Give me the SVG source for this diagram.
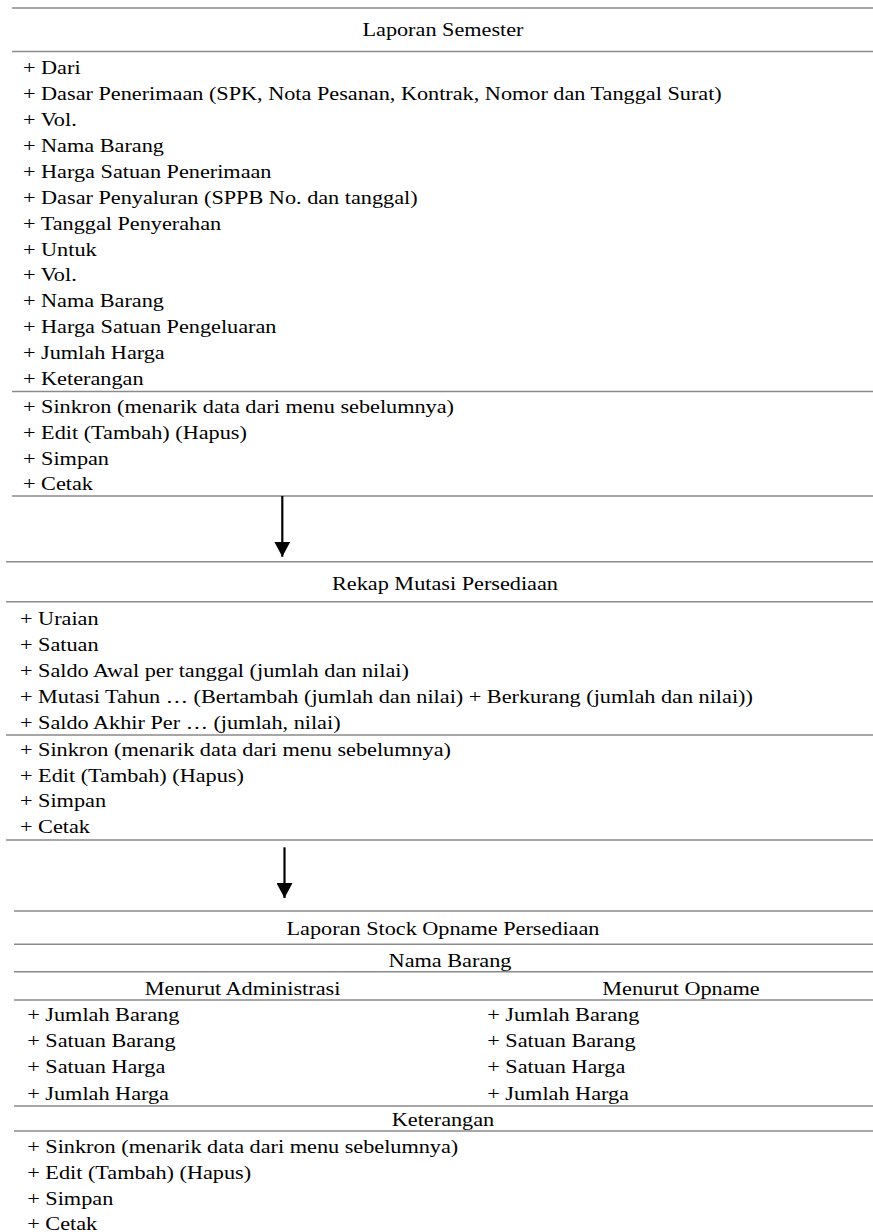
<svg xmlns="http://www.w3.org/2000/svg" width="873" height="1232" viewBox="0 0 873 1232">
<style>
.rule{stroke:#8a8a8a;stroke-width:1.6;fill:none}
text{font-family:'Liberation Serif','Times New Roman',serif;font-size:17.8px;fill:#000}
.c{text-anchor:middle}
.arrow{stroke:#000;stroke-width:2.2;fill:none}
</style>
<defs>
<marker id="ah" markerWidth="15" markerHeight="16" refX="15" refY="8" orient="auto" markerUnits="userSpaceOnUse" viewBox="0 0 15 16">
<path d="M0,0 L15,8 L0,16 Z" fill="#000"/>
</marker>
</defs>
<g id="laporan-semester">
<line class="rule" x1="12" y1="8" x2="873" y2="8"/>
<line class="rule" x1="12" y1="51.5" x2="873" y2="51.5"/>
<line class="rule" x1="12" y1="391.5" x2="873" y2="391.5"/>
<line class="rule" x1="12" y1="496" x2="873" y2="496"/>
<g transform="scale(1.25 1)">
<text class="c" x="354.4" y="36">Laporan Semester</text>
<text x="18.4" y="74.3">+ Dari</text>
<text x="18.4" y="100.2">+ Dasar Penerimaan (SPK, Nota Pesanan, Kontrak, Nomor dan Tanggal Surat)</text>
<text x="18.4" y="126.1">+ Vol.</text>
<text x="18.4" y="152">+ Nama Barang</text>
<text x="18.4" y="177.9">+ Harga Satuan Penerimaan</text>
<text x="18.4" y="203.8">+ Dasar Penyaluran (SPPB No. dan tanggal)</text>
<text x="18.4" y="229.7">+ Tanggal Penyerahan</text>
<text x="18.4" y="255.6">+ Untuk</text>
<text x="18.4" y="281.5">+ Vol.</text>
<text x="18.4" y="307.4">+ Nama Barang</text>
<text x="18.4" y="333.3">+ Harga Satuan Pengeluaran</text>
<text x="18.4" y="359.2">+ Jumlah Harga</text>
<text x="18.4" y="385.1">+ Keterangan</text>
<text x="18.4" y="413">+ Sinkron (menarik data dari menu sebelumnya)</text>
<text x="18.4" y="439.5">+ Edit (Tambah) (Hapus)</text>
<text x="18.4" y="465.5">+ Simpan</text>
<text x="18.4" y="490.5">+ Cetak</text>
</g>
</g>
<g id="rekap-mutasi">
<line class="rule" x1="6" y1="561.7" x2="873" y2="561.7"/>
<line class="rule" x1="6" y1="601.7" x2="873" y2="601.7"/>
<line class="rule" x1="6" y1="735" x2="873" y2="735"/>
<line class="rule" x1="6" y1="840" x2="873" y2="840"/>
<g transform="scale(1.25 1)">
<text class="c" x="356" y="590.5">Rekap Mutasi Persediaan</text>
<text x="16" y="625.5">+ Uraian</text>
<text x="16" y="651.3">+ Satuan</text>
<text x="16" y="677.1">+ Saldo Awal per tanggal (jumlah dan nilai)</text>
<text x="16" y="702.9">+ Mutasi Tahun … (Bertambah (jumlah dan nilai) + Berkurang (jumlah dan nilai))</text>
<text x="16" y="728.7">+ Saldo Akhir Per … (jumlah, nilai)</text>
<text x="16" y="755.7">+ Sinkron (menarik data dari menu sebelumnya)</text>
<text x="16" y="781.7">+ Edit (Tambah) (Hapus)</text>
<text x="16" y="807.5">+ Simpan</text>
<text x="16" y="833.3">+ Cetak</text>
</g>
</g>
<g id="stock-opname">
<line class="rule" x1="14" y1="911" x2="873" y2="911"/>
<line class="rule" x1="14" y1="944.3" x2="873" y2="944.3"/>
<line class="rule" x1="14" y1="971.7" x2="873" y2="971.7"/>
<line class="rule" x1="14" y1="1000" x2="873" y2="1000"/>
<line class="rule" x1="14" y1="1106" x2="873" y2="1106"/>
<line class="rule" x1="14" y1="1131" x2="873" y2="1131"/>
<g transform="scale(1.25 1)">
<text class="c" x="354.4" y="935">Laporan Stock Opname Persediaan</text>
<text class="c" x="360" y="967">Nama Barang</text>
<text class="c" x="194" y="995">Menurut Administrasi</text>
<text class="c" x="544.8" y="995">Menurut Opname</text>
<text x="21.8" y="1021">+ Jumlah Barang</text>
<text x="21.8" y="1047">+ Satuan Barang</text>
<text x="21.8" y="1073.5">+ Satuan Harga</text>
<text x="21.8" y="1100">+ Jumlah Harga</text>
<text x="389.8" y="1021">+ Jumlah Barang</text>
<text x="389.8" y="1047">+ Satuan Barang</text>
<text x="389.8" y="1073.5">+ Satuan Harga</text>
<text x="389.8" y="1100">+ Jumlah Harga</text>
<text class="c" x="354.4" y="1126">Keterangan</text>
<text x="21.8" y="1153.3">+ Sinkron (menarik data dari menu sebelumnya)</text>
<text x="21.8" y="1178.8">+ Edit (Tambah) (Hapus)</text>
<text x="21.8" y="1205">+ Simpan</text>
<text x="21.8" y="1230.5">+ Cetak</text>
</g>
</g>
<g id="connectors">
<line class="arrow" x1="282.3" y1="496" x2="282.3" y2="556.7" marker-end="url(#ah)"/>
<line class="arrow" x1="284.5" y1="847.3" x2="284.5" y2="898" marker-end="url(#ah)"/>
</g>
</svg>
